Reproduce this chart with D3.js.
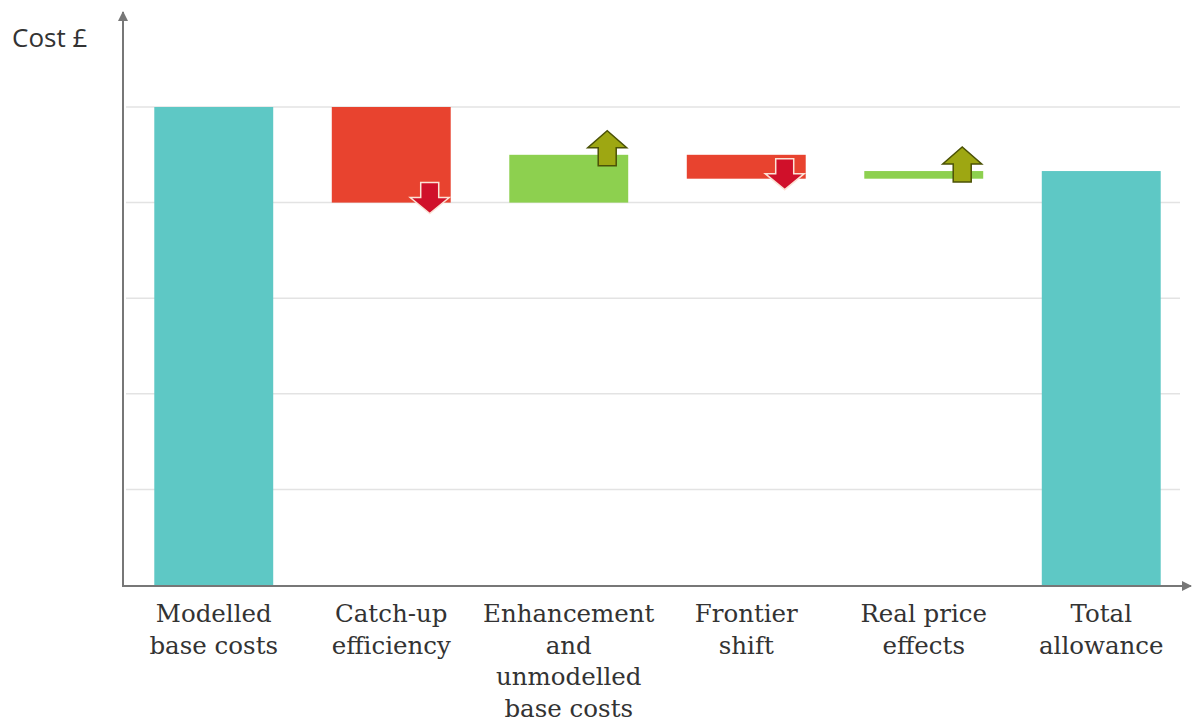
<!DOCTYPE html>
<html>
<head>
<meta charset="utf-8">
<script src="https://cdn.jsdelivr.net/npm/d3@7"></script>
<style>
  body { margin: 0; background: #fff; }
  svg { display: block; }
</style>
</head>
<body>
<svg id="chart" width="1192" height="722"></svg>
<script>
// waterfall steps (cost units)
var categories = ['Modelled base costs', 'Catch-up efficiency', 'Enhancement and unmodelled base costs', 'Frontier shift', 'Real price effects', 'Total allowance'];
var labelLines = [['Modelled', 'base costs'], ['Catch-up', 'efficiency'], ['Enhancement', 'and', 'unmodelled', 'base costs'], ['Frontier', 'shift'], ['Real price', 'effects'], ['Total', 'allowance']];
var kinds = ['total', 'step', 'step', 'step', 'step', 'total'];
var changes = [5, -1, 0.5, -0.25, 0.08, null];
var gridValues = [1, 2, 3, 4, 5];

var svg = d3.select('#chart');

var x = d3.scaleBand()
    .domain(categories)
    .range([125, 1190])
    .paddingInner(0.33)
    .paddingOuter(0.165);

var y = d3.scaleLinear()
    .domain([0, 5])
    .range([585, 107]);

// build start/end for each bar
var running = 0;
var bars = categories.map(function (c, i) {
    var start, end;
    if (kinds[i] == 'total') {
        start = 0;
        end = changes[i] == null ? running : changes[i];
        running = end;
    } else {
        start = running;
        end = running + changes[i];
        running = end;
    }
    return { name: c, start: start, end: end, kind: kinds[i], lines: labelLines[i] };
});

// gridlines
svg.append('g')
    .selectAll('line')
    .data(gridValues)
    .enter()
    .append('line')
    .attr('x1', 126)
    .attr('x2', 1180)
    .attr('y1', d => y(d))
    .attr('y2', d => y(d))
    .attr('stroke', '#e3e3e3')
    .attr('stroke-width', 1.5);

// bars
svg.append('g')
    .selectAll('rect')
    .data(bars)
    .enter()
    .append('rect')
    .attr('x', d => x(d.name))
    .attr('width', x.bandwidth())
    .attr('y', d => y(Math.max(d.start, d.end)))
    .attr('height', d => Math.abs(y(d.start) - y(d.end)))
    .style('fill', d => {
        if (d.kind == 'total') return '#5ec8c5';
        if (d.end < d.start) return '#e8432f';
        return '#8dd04f';
    });

// direction arrows near right end of each step bar
var headW = 39, shaftW = 18;
function arrowPath(d) {
    var cx = x(d.name) + x.bandwidth() - 21;
    var yEnd = y(d.end);
    var hw = headW / 2, sw = shaftW / 2;
    if (d.end < d.start) {
        var top = yEnd - 20, neck = yEnd - 5, tip = yEnd + 11;
        return 'M' + (cx - sw) + ',' + top + 'H' + (cx + sw) + 'V' + neck + 'H' + (cx + hw) +
            'L' + cx + ',' + tip + 'L' + (cx - hw) + ',' + neck + 'H' + (cx - sw) + 'Z';
    } else {
        var tipU = yEnd - 24, neckU = yEnd - 7, bottom = yEnd + 11;
        return 'M' + (cx - sw) + ',' + bottom + 'H' + (cx + sw) + 'V' + neckU + 'H' + (cx + hw) +
            'L' + cx + ',' + tipU + 'L' + (cx - hw) + ',' + neckU + 'H' + (cx - sw) + 'Z';
    }
}

svg.append('g')
    .selectAll('path')
    .data(bars.filter(d => d.kind == 'step'))
    .enter()
    .append('path')
    .attr('d', arrowPath)
    .style('fill', d => d.end < d.start ? '#d0102a' : '#9ea712')
    .attr('stroke', d => d.end < d.start ? '#fbe3d6' : '#4b5206')
    .attr('stroke-width', 1.5)
    .attr('stroke-linejoin', 'miter');

// axes with arrow heads
svg.append('defs').append('marker')
    .attr('id', 'arr')
    .attr('viewBox', '0 0 10 10')
    .attr('refX', 9)
    .attr('refY', 5)
    .attr('markerWidth', 5)
    .attr('markerHeight', 5)
    .attr('orient', 'auto')
    .append('path')
    .attr('d', 'M0,0L10,5L0,10Z')
    .style('fill', '#777');

svg.append('line')
    .attr('x1', 123).attr('y1', 586)
    .attr('x2', 123).attr('y2', 12)
    .attr('stroke', '#777')
    .attr('stroke-width', 2)
    .attr('marker-end', 'url(#arr)');

svg.append('line')
    .attr('x1', 122).attr('y1', 586)
    .attr('x2', 1191).attr('y2', 586)
    .attr('stroke', '#777')
    .attr('stroke-width', 2)
    .attr('marker-end', 'url(#arr)');

// category labels
var labels = svg.append('g')
    .selectAll('text')
    .data(bars)
    .enter()
    .append('text')
    .attr('text-anchor', 'middle')
    .style('font-family', '"DejaVu Serif", serif')
    .style('font-size', '24.5px')
    .style('fill', '#333');

labels.selectAll('tspan')
    .data(d => d.lines.map(l => ({ line: l, name: d.name })))
    .enter()
    .append('tspan')
    .attr('x', d => x(d.name) + x.bandwidth() / 2)
    .attr('y', (d, i) => 622 + i * 31.5)
    .text(d => d.line);

// y axis title
svg.append('text')
    .attr('x', 12)
    .attr('y', 47)
    .style('font-family', '"Open Sans", sans-serif')
    .style('font-size', '26px')
    .style('fill', '#333')
    .text('Cost £');
</script>
</body>
</html>
